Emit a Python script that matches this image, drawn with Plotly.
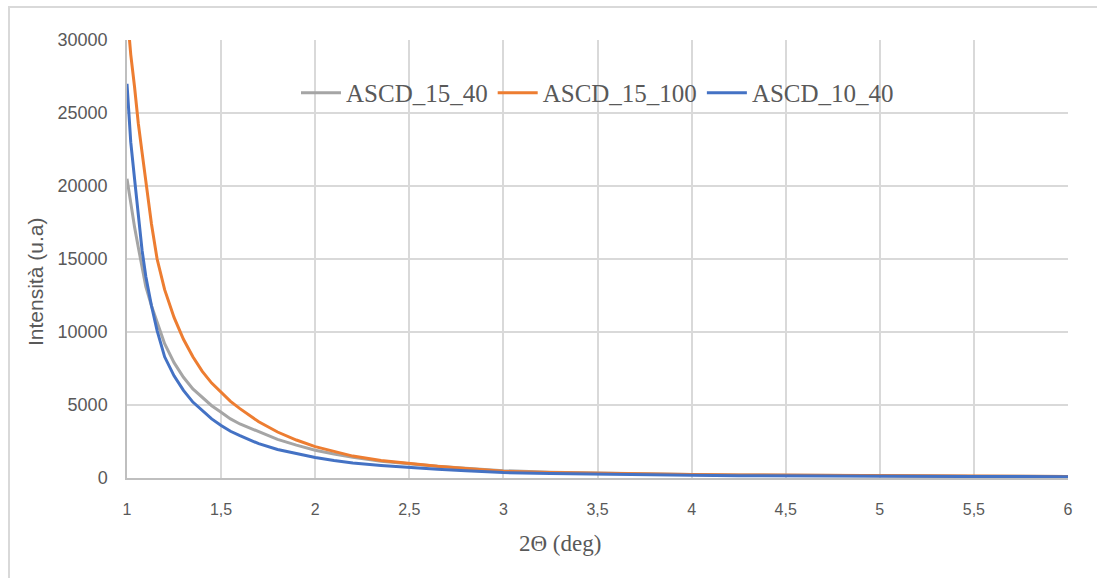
import plotly.graph_objects as go

x_deg = [1.00, 1.02, 1.04, 1.06, 1.08, 1.10, 1.13, 1.16, 1.20, 1.25, 1.30, 1.35, 1.40, 1.45,
         1.50, 1.55, 1.60, 1.70, 1.80, 1.90, 2.00, 2.10, 2.20, 2.35, 2.50, 2.65, 2.80, 3.00,
         3.25, 3.50, 3.75, 4.00, 4.25, 4.50, 4.75, 5.00, 5.25, 5.50, 5.75, 6.00]

ascd_15_40 = [20500, 18800, 17200, 15800, 14400, 13100, 11800, 10700, 9200, 7900, 6900, 6100,
              5500, 4950, 4500, 4050, 3700, 3150, 2650, 2250, 1900, 1650, 1420, 1150, 950, 800,
              660, 500, 400, 330, 280, 240, 210, 185, 165, 150, 135, 125, 115, 105]

ascd_15_100 = [32000, 29000, 26800, 24300, 22300, 20400, 17400, 15000, 12900, 11000, 9500, 8300,
               7300, 6500, 5900, 5250, 4750, 3850, 3150, 2600, 2150, 1800, 1500, 1200, 980, 800,
               650, 460, 380, 320, 275, 240, 210, 190, 170, 150, 140, 125, 115, 110]

ascd_10_40 = [27000, 23000, 20500, 17800, 15600, 13800, 11800, 10100, 8300, 7000, 6000, 5200,
              4600, 4050, 3600, 3200, 2900, 2350, 1950, 1650, 1400, 1200, 1030, 860, 720, 600,
              500, 370, 300, 250, 210, 180, 160, 140, 130, 120, 110, 100, 95, 90]

series = [
    ("ASCD_15_40", ascd_15_40, "#a5a5a5"),
    ("ASCD_15_100", ascd_15_100, "#ed7d31"),
    ("ASCD_10_40", ascd_10_40, "#4472c4"),
]

x_ticks = [1, 1.5, 2, 2.5, 3, 3.5, 4, 4.5, 5, 5.5, 6]
x_tick_labels = ["1", "1,5", "2", "2,5", "3", "3,5", "4", "4,5", "5", "5,5", "6"]
y_ticks = [0, 5000, 10000, 15000, 20000, 25000, 30000]
x_title = "2Θ (deg)"
y_title = "Intensità (u.a)"

fig = go.Figure()
for name, vals, color in series:
    fig.add_trace(go.Scatter(x=x_deg, y=vals, mode="lines", name=name,
                             line=dict(color=color, width=3), cliponaxis=True))

W, H = 1097, 578
L, R, T, B = 127, 29, 40, 100
pw = W - L - R
ph = H - T - B

def px_to_paper(px, py):
    return (px - L) / pw, (H - B - py) / ph

x0, y0 = px_to_paper(9, 7)
x1, y1 = px_to_paper(1110, 590)
fig.add_shape(type="rect", xref="paper", yref="paper", x0=x0, y0=y1, x1=x1, y1=y0,
              line=dict(color="#d9d9d9", width=2), fillcolor="rgba(0,0,0,0)", layer="below")

xt_x, xt_y = px_to_paper(560, 543)
fig.add_annotation(text=x_title, xref="paper", yref="paper", x=xt_x, y=xt_y,
                   xanchor="center", yanchor="middle", showarrow=False,
                   font=dict(family="Liberation Serif, Times New Roman, serif", size=23, color="#595959"))
yt_x, yt_y = px_to_paper(35, 282)
fig.add_annotation(text=y_title, xref="paper", yref="paper", x=yt_x, y=yt_y, textangle=-90,
                   xanchor="center", yanchor="middle", showarrow=False,
                   font=dict(family="Liberation Sans, Arial, sans-serif", size=21, color="#595959"))

fig.update_layout(
    width=W, height=H,
    margin=dict(l=L, r=R, t=T, b=B),
    paper_bgcolor="white", plot_bgcolor="white",
    showlegend=True,
    legend=dict(orientation="h", x=0.5, xanchor="center", y=0.879, yanchor="middle",
                font=dict(family="Liberation Serif, Times New Roman, serif", size=25, color="#595959"),
                bgcolor="rgba(0,0,0,0)", itemwidth=40, tracegroupgap=0),
    xaxis=dict(range=[1, 6], tickvals=x_ticks, ticktext=x_tick_labels,
               showgrid=True, gridcolor="#d9d9d9", gridwidth=1.5,
               showline=True, linecolor="#bfbfbf", linewidth=1.5,
               ticks="", ticklen=0, ticklabelstandoff=16,
               tickfont=dict(family="Liberation Sans, sans-serif", size=16, color="#595959"),
               zeroline=False),
    yaxis=dict(range=[0, 30000], tickvals=y_ticks,
               showgrid=True, gridcolor="#d9d9d9", gridwidth=1.5,
               showline=True, linecolor="#bfbfbf", linewidth=1.5,
               ticks="", tickformat="d", ticklabelstandoff=14,
               tickfont=dict(family="Liberation Sans, sans-serif", size=18, color="#595959"),
               zeroline=False),
)

fig.write_html("out.html")
